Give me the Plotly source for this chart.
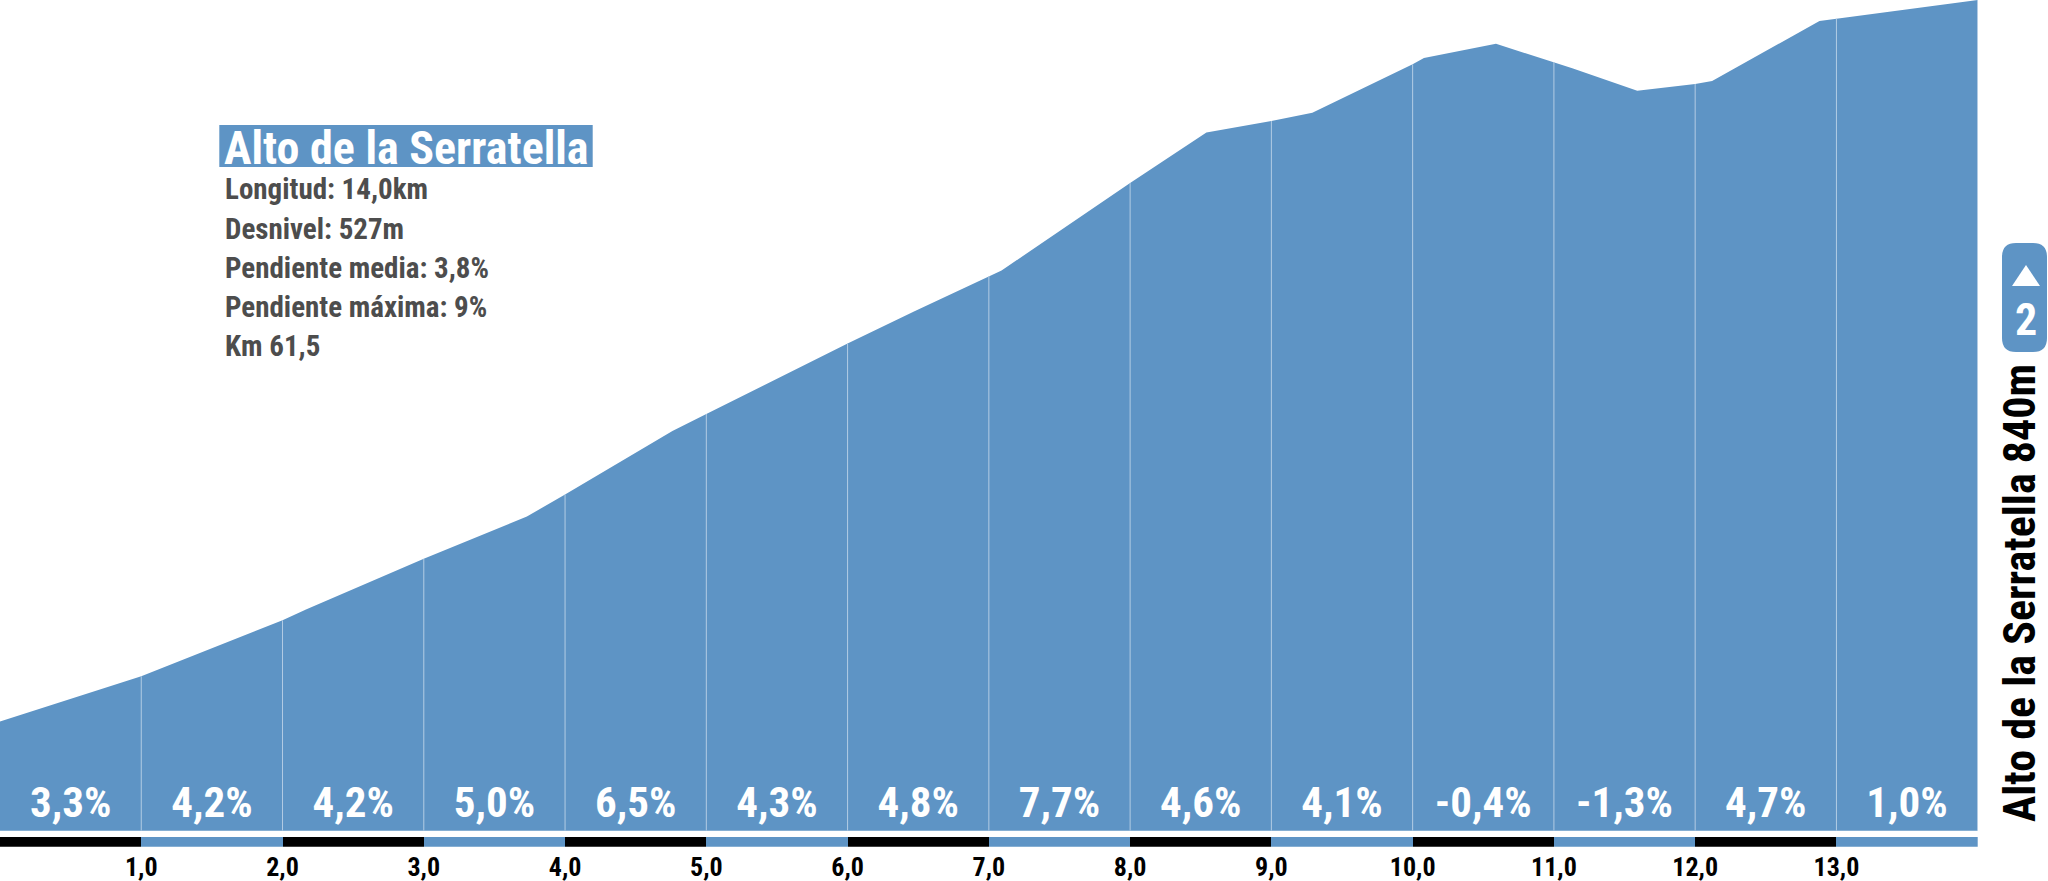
import plotly.graph_objects as go

W, H = 2048, 881

# profile (km, metres)
profile_km = [0, 1, 2, 2.17, 3, 3.73, 4, 4.76, 5, 6, 6.47, 7, 7.09, 8, 8.54, 9, 9.29,
              10, 10.08, 10.59, 11, 11.13, 11.59, 12, 12.12, 12.88, 13, 14]
profile_m = [312, 345, 386, 394, 431, 462, 478, 524.5, 537, 588.5, 612, 638, 642, 706, 743, 751.4, 757.5,
             793, 797.5, 808, 794.6, 790, 773.6, 778.5, 780.7, 824.6, 826.3, 840]

km_marks = [1, 2, 3, 4, 5, 6, 7, 8, 9, 10, 11, 12, 13, 14]
km_ticks = [1, 2, 3, 4, 5, 6, 7, 8, 9, 10, 11, 12, 13]
km_tick_labels = ["1,0", "2,0", "3,0", "4,0", "5,0", "6,0", "7,0", "8,0", "9,0", "10,0", "11,0", "12,0", "13,0"]
segment_mid = [0.5, 1.5, 2.5, 3.5, 4.5, 5.5, 6.5, 7.5, 8.5, 9.5, 10.5, 11.5, 12.5, 13.5]
gradients = ["3,3%", "4,2%", "4,2%", "5,0%", "6,5%", "4,3%", "4,8%", "7,7%", "4,6%", "4,1%",
             "-0,4%", "-1,3%", "4,7%", "1,0%"]

info_lines = ["Longitud: 14,0km", "Desnivel: 527m", "Pendiente media: 3,8%", "Pendiente máxima: 9%", "Km 61,5"]

BLUE = "#5e94c5"
LIGHT = "#b3cce4"
FONT = "Roboto Condensed, DejaVu Sans Condensed, Roboto"
BASE_M = 232
LABEL_M = 250


def px(x):
    return x / W


def py(y):
    return 1 - y / H


fig = go.Figure()

fig.add_trace(go.Scatter(x=profile_km, y=profile_m, mode="lines", fill="tozeroy",
                         fillcolor=BLUE, line=dict(color=BLUE, width=0), hoverinfo="skip"))

# km separators
sep_x, sep_y = [], []
for k in km_marks:
    sep_x += [k, k, None]
    sep_y += [BASE_M, profile_m[profile_km.index(k)], None]
fig.add_trace(go.Scatter(x=sep_x, y=sep_y, mode="lines", line=dict(color=LIGHT, width=1), hoverinfo="skip"))

fig.add_trace(go.Scatter(x=segment_mid, y=[LABEL_M] * len(segment_mid), mode="text", text=gradients,
                         textposition="middle center",
                         textfont=dict(family=FONT, size=43, color="white", weight="bold"), hoverinfo="skip"))

# km ruler
fig.add_trace(go.Bar(x=segment_mid, y=[1] * len(segment_mid), width=1, yaxis="y2",
                     marker=dict(color=["black" if i % 2 == 0 else BLUE for i in range(len(segment_mid))],
                                 line=dict(width=0)), hoverinfo="skip"))

fig.update_layout(
    width=W, height=H, autosize=False, showlegend=False,
    margin=dict(l=0, r=0, t=0, b=0),
    paper_bgcolor="white", plot_bgcolor="white", bargap=0,
    xaxis=dict(domain=[0, 1977.7 / W], range=[0, 14], anchor="y2", showgrid=False, zeroline=False, showline=False,
               tickmode="array", tickvals=km_ticks, ticktext=km_tick_labels, ticks="", ticklen=0,
               ticklabelstandoff=2,
               tickfont=dict(family=FONT, size=26, color="black", weight="bold")),
    yaxis=dict(domain=[py(830.7), 1], range=[BASE_M, 840], visible=False),
    yaxis2=dict(domain=[py(846.7), py(836.7)], range=[0, 1], visible=False),
)

# title block
fig.add_shape(type="rect", xref="paper", yref="paper", x0=px(219.3), x1=px(592.7), y0=py(125), y1=py(167),
              fillcolor=BLUE, line=dict(width=0))
fig.add_annotation(text="Alto de la Serratella", xref="paper", yref="paper", x=px(222), y=py(148),
                   xanchor="left", yanchor="middle", showarrow=False, align="left",
                   font=dict(family=FONT, size=46, color="white", weight="bold"))
for i, line in enumerate(info_lines):
    fig.add_annotation(text=line, xref="paper", yref="paper", x=px(223), y=py(189.4 + 39.2 * i),
                       xanchor="left", yanchor="middle", showarrow=False, align="left",
                       font=dict(family=FONT, size=29, color="#4d4d4d", weight="bold"))

# climb name, rotated
fig.add_annotation(text="Alto de la Serratella 840m", xref="paper", yref="paper", x=px(2020), y=py(824),
                   xanchor="center", yanchor="bottom", showarrow=False, textangle=-90,
                   font=dict(family=FONT, size=44, color="black", weight="bold"))

# category badge
fig.add_shape(type="path", xref="paper", yref="paper", fillcolor=BLUE, line=dict(width=0),
              path=f"M {px(2016)} {py(243)} L {px(2033)} {py(243)} Q {px(2047)} {py(243)} {px(2047)} {py(257)} "
                   f"L {px(2047)} {py(338)} Q {px(2047)} {py(352)} {px(2033)} {py(352)} "
                   f"L {px(2016)} {py(352)} Q {px(2002)} {py(352)} {px(2002)} {py(338)} "
                   f"L {px(2002)} {py(257)} Q {px(2002)} {py(243)} {px(2016)} {py(243)} Z")
fig.add_shape(type="path", xref="paper", yref="paper", fillcolor="white", line=dict(width=0),
              path=f"M {px(2012)} {py(286)} L {px(2040)} {py(286)} L {px(2026)} {py(265)} Z")
fig.add_annotation(text="2", xref="paper", yref="paper", x=px(2025.5), y=py(320),
                   xanchor="center", yanchor="middle", showarrow=False,
                   font=dict(family=FONT, size=44, color="white", weight="bold"))

fig.write_html("out.html", config=dict(displayModeBar=False), post_script="document.body.style.margin = '0';")
